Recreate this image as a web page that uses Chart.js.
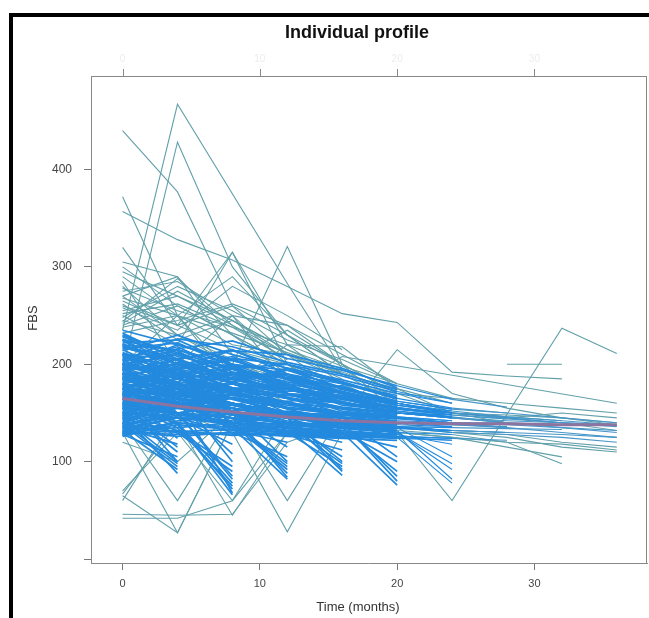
<!DOCTYPE html>
<html>
<head>
<meta charset="utf-8">
<script src="https://cdn.jsdelivr.net/npm/chart.js@4.4.0/dist/chart.umd.min.js"></script>
<style>
  html, body { margin: 0; padding: 0; background: #fff; }
  #wrap { position: relative; width: 649px; height: 618px; overflow: hidden; }
  #frame { position: absolute; left: 9px; top: 13px; width: 700px; height: 700px;
           border-top: 4px solid #000; border-left: 4px solid #000; }
  canvas { position: absolute; left: 0; top: 0; }
</style>
</head>
<body>
<div id="wrap">
  <div id="frame"></div>
  <canvas id="profileChart" width="649" height="618"></canvas>
</div>
<script>
"use strict";

// visit times (months)
const months = [0, 4, 8, 12, 16, 20, 24, 28, 32, 36];

// FBS per subject, one value per visit, null = missed visit
const bandProfiles = [
  // dropping low at month 4
  [132, 92], [140, 98], [128, 105], [155, 110], [135, 118], [170, 124], [145, 100], [138, 95],
  [165, 100], [148, 88], [158, 115],
  // dropping low at month 8
  [180, 140, 66], [160, 135, 75], [200, 150, 85], [150, 132, 95], [175, 160, 108],
  [190, 145, 118], [165, 138, 72], [210, 170, 100], [145, 130, 90],
  [172, 150, 82], [195, 165, 68], [155, 140, 78],
  // dropping low at month 12
  [170, 160, 135, 82], [190, 175, 140, 95], [150, 145, 130, 105], [210, 180, 150, 115],
  [160, 150, 145, 88], [185, 165, 132, 120], [175, 170, 155, 100], [200, 190, 138, 92],
  [188, 160, 150, 84], [168, 150, 140, 98],
  // dropping low at month 16
  [180, 170, 160, 135, 86], [160, 150, 145, 130, 95], [200, 185, 170, 140, 105],
  [175, 165, 150, 128, 112], [190, 180, 160, 150, 92], [155, 150, 140, 132, 120],
  [220, 200, 175, 145, 100], [205, 175, 160, 145, 90], [170, 160, 150, 138, 98],
  // dropping low at month 20
  [185, 170, 160, 150, 130, 76], [165, 160, 150, 140, 135, 90], [200, 190, 170, 160, 145, 105],
  [175, 165, 155, 145, 128, 115], [210, 190, 175, 150, 140, 85],
  [190, 178, 165, 150, 140, 80], [160, 155, 148, 140, 132, 100],
  // dropping low at month 24
  [190, 175, 160, 150, 140, 125, 78], [170, 160, 155, 145, 140, 130, 92],
  [200, 185, 170, 155, 150, 135, 105], [180, 170, 165, 150, 145, 128, 118],
  [185, 170, 160, 150, 142, 132, 82], [175, 165, 158, 148, 140, 130, 98],
  // staying in the main band
  [230, 210, 190, 175, 160, 150], [225, 200, 185, 170, 165], [220, 215, 200, 180],
  [215, 190, 195, 175, 160, 155, 150], [210, 205, 185, 170, 160],
  [205, 180, 175, 165, 150, 145, 140, 135], [200, 210, 190, 180, 170], [198, 185, 170, 160],
  [195, 200, 180, 170, 155, 150, 145, 140, 135, 130], [192, 175, 165, 150, 148],
  [190, 195, 185, 175, 160, 150, 148], [188, 170, 175, 160, 150],
  [185, 180, 170, 160, 150, 145, 140, 140], [182, 190, 165, 155, 148],
  [180, 175, 180, 165, 160, 150, 145, 142, 140, 138], [178, 165, 160, 150, 145],
  [175, 185, 170, 160, 155, 148], [172, 160, 165, 155, 150, 145, 140], [170, 175, 160, 150, 145],
  [168, 180, 170, 160, 150, 140, 138, 136], [165, 150, 155, 145, 140],
  [162, 170, 160, 150, 148, 142, 140, 138, 135, 132], [160, 165, 150, 145, 138],
  [158, 150, 160, 150, 140, 138], [155, 165, 155, 145, 140, 135, 132], [152, 145, 150, 140, 135],
  [150, 160, 150, 145, 138, 136, 135, 134, 133], [148, 155, 145, 140, 135],
  [145, 150, 140, 138, 135, 132], [142, 150, 145, 140, 138, 135, 130, 128, 125, 120],
  [140, 145, 140, 135, 132], [138, 150, 140, 135, 130, 128], [135, 145, 138, 132, 130],
  [132, 140, 135, 130, 128, 125, 122], [130, 135, 140, 132, 128], [128, 140, 135, 130, 125, 125],
  [225, 190, 170, 160, 150, 140, 140, 135, 130, 125], [218, 200, 180, 165, 155, 150],
  [212, 195, 200, 170, 165], [208, 185, 175, 180, 160, 150, 145], [203, 215, 195, 180, 170],
  [197, 178, 190, 170, 160, 155], [193, 205, 180, 175, 165, 150, 145, 140, 138],
  [187, 172, 168, 160, 150], [183, 195, 175, 165, 155, 150, 150, 145, 140, 136],
  [177, 188, 175, 170, 160, 150], [173, 168, 172, 160, 150, 148], [167, 175, 165, 160, 155],
  [163, 158, 165, 155, 150, 145, 140], [157, 170, 160, 150, 145, 140],
  [153, 160, 150, 148, 145, 140, 138, 135], [147, 158, 150, 145, 140],
  [143, 155, 148, 140, 138, 135, 132, 130, 128, 125], [137, 148, 142, 138, 135],
  [133, 145, 140, 135, 130, 128], [127, 138, 133, 130, 128],
  [235, 220, 205, 185, 170, 160, 150], [232, 205, 215, 190, 175], [228, 212, 195, 185, 165, 155],
  [222, 225, 200, 190, 180, 165, 155, 150, 145, 140],
  [226, 208, 196, 182, 170, 158, 150], [221, 196, 204, 188, 172, 160],
  [216, 222, 198, 176, 168, 152, 146, 140], [211, 188, 206, 184, 166, 156],
  [206, 218, 192, 186, 170, 160, 152, 146, 142, 138], [201, 192, 182, 196, 174, 162],
  [196, 212, 188, 172, 178, 158, 150], [191, 182, 198, 178, 164, 156, 148, 144],
  [186, 202, 184, 190, 170, 154], [181, 194, 176, 168, 172, 160, 150, 146, 142],
  [176, 166, 186, 174, 162, 150, 146], [171, 186, 172, 178, 158, 152],
  [166, 178, 168, 162, 168, 154, 148, 144, 140, 138], [161, 172, 180, 166, 156, 150],
  [156, 168, 158, 170, 152, 146, 142], [151, 162, 170, 156, 150, 148],
  [146, 160, 152, 162, 148, 144, 140, 138], [141, 156, 148, 152, 146, 140],
  [136, 150, 158, 146, 142, 138, 136], [131, 146, 140, 148, 140, 136],
  [126, 142, 150, 140, 136, 134, 132, 130], [229, 200, 188, 170, 160],
  [219, 206, 186, 174, 164, 154, 148], [209, 198, 214, 196, 180, 168],
  [199, 220, 204, 188, 176, 162, 154, 150], [189, 176, 196, 200, 182, 164],
  [179, 198, 208, 186, 172, 158, 152], [169, 190, 182, 194, 176, 160],
  [159, 180, 192, 178, 166, 154, 150, 146], [149, 170, 182, 170, 160, 150],
  [139, 164, 174, 166, 154, 146, 142], [129, 156, 166, 158, 150, 144],
  [214, 230, 210, 196, 184, 170, 160], [204, 226, 218, 202, 190, 174],
  [194, 216, 224, 206, 194, 178, 164, 156], [184, 206, 214, 210, 196, 176],
  [174, 196, 206, 200, 188, 172, 160], [164, 186, 200, 194, 182, 166],
  [154, 176, 190, 186, 176, 162, 154], [144, 166, 180, 176, 168, 158],
  [134, 158, 170, 168, 160, 152, 146], [224, 214, 180, 160, 146, 140, 136],
  [217, 204, 172, 154, 142, 138], [207, 194, 164, 150, 140, 136, 132, 130],
  [202, 188, 158, 146, 136, 132], [194, 182, 152, 142, 134, 130, 128],
  [186, 174, 148, 138, 132, 128], [178, 166, 144, 136, 130, 126, 124, 122],
  [168, 158, 140, 134, 128, 126], [158, 150, 136, 132, 126, 124, 122],
  [130, 128, 130, 128, 126, 125], [134, 130, 128, 130, 125], [128, 132, 127, 129, 128, 126, 124],
  [136, 131, 133, 127, 125], [131, 126, 130, 126, 124, 122]
];

const spreadProfiles = [
  [440, 377, 260, 210, 170, 150], [372, 250, 190, 160, 145],
  [357, 328, 307, 280, 252, 243, 192, 188, 185], [235, 467, null, 283, 195, 165],
  [195, 428, 300, 230, 190], [320, 240, 315, 200, 160], [305, 290, 230, 190, 170, 150],
  [285, 200, 250, 180], [280, 230, 200, 185, 175, 160, 150, 148, 145, 140],
  [270, 290, 210, 170, 160], [250, 220, 315, 220, 180, 155],
  [260, 240, 215, 200, 180, 170, 165, 160, 155, 150], [180, 170, 200, 321, 200, 150],
  [200, 250, 180, 220, 218, 175, 150, 140], [190, 210, 190, 175, 208, null, null, null, null, 160],
  [210, 180, 175, 160, 150, 130, 60, null, 237, 211],
  [null, null, null, null, null, null, null, 200, 200],
  [200, 185, 175, 165, 160, 155, 150, 145, 140, 132],
  [185, 170, 160, 150, 175, 160, 150, 145, 150, 145],
  [170, 160, 155, 150, 145, 215, 170, 155, 145, 138],
  [180, 165, 170, 160, 150, 140, 130, 125, 115, 110],
  [160, 150, 145, 140, 135, 130, 125, 120, 118, 112],
  [155, 150, 148, 140, 138, 132, 128, 120, 98],
  [150, 145, 140, 138, 135, 130, 125, 115, 105],
  [170, 160, 150, 145, 140, 135, 130, 128, 120, 115],
  [67, 140, 160, 150, 145], [46, 45, 46, 120, 140], [42, 42, 60, 130],
  [65, 27, 140, 150], [70, 130, 60, 150, 140], [60, 150, 130, 28, 130],
  [130, 27, 140, 135], [150, 140, 45, 130, 140], [120, 100, 150, 60, 150], [140, 60, 150, 140, 135],
  [300, 260, 230, 200, 180], [275, 285, 250, 200, 170], [265, 240, 260, 230, 190, 160],
  [255, 270, 240, 210, 190], [245, 230, 250, 240, 200, 170, 150], [240, 260, 230, 200],
  [290, 250, 220, 210, 190, 175, 160], [248, 280, 255, 225, 205, 180], [258, 235, 280, 250, 215],
  [295, 270, 245, 215, 190], [268, 250, 232, 212, 192, 172], [252, 262, 238, 205],
  [242, 275, 245, 210, 185], [278, 255, 238, 220, 198, 180, 165], [262, 225, 245, 215, 195],
  [238, 250, 290, 230, 200], [244, 288, 240, 205], [232, 245, 262, 240, 210, 180],
  [270, 230, 205, 235, 200, 170]
];

// smoothed mean profile
const meanFBS = [165, 157, 151, 146, 142, 140, 139, 139, 138, 138];

const xTicks = [0, 10, 20, 30];
const yTicks = [0, 100, 200, 300, 400];

const fontFamily = '"Liberation Sans", Arial, sans-serif';

function toPoints(vals) {
  return vals.map((v, i) => ({ x: months[i], y: v }));
}

// late follow-up segments are sparser in the original, so draw them thinner
const lateSegment = {
  borderWidth: c => (c.p0.parsed.x >= 20 ? 1.1 : 1.7),
  borderColor: c => (c.p0.parsed.x >= 24 ? 'rgb(70,150,200)' : 'rgb(35,138,222)')
};

// lower index is painted last: mean on top, then the blue band, then the spread
const datasets = [
  { data: toPoints(meanFBS), borderColor: '#8d74a0', borderWidth: 3 }
];
bandProfiles.forEach(p => datasets.push({
  data: toPoints(p), borderColor: 'rgb(35,138,222)', borderWidth: 1.7, segment: lateSegment
}));
spreadProfiles.forEach(p => datasets.push({ data: toPoints(p), borderColor: 'rgb(98,160,170)', borderWidth: 1.1 }));

// box, top ticks and titles
const boxPlugin = {
  id: 'boxPlugin',
  afterDraw(chart) {
    const ctx = chart.ctx;
    const a = chart.chartArea;
    const x = chart.scales.x;
    ctx.save();
    ctx.strokeStyle = '#888';
    ctx.lineWidth = 1;
    ctx.beginPath();
    ctx.moveTo(a.left, a.top + 0.5);
    ctx.lineTo(a.right, a.top + 0.5);
    ctx.moveTo(a.right - 0.5, a.top);
    ctx.lineTo(a.right - 0.5, a.bottom);
    xTicks.forEach(v => {
      const px = Math.round(x.getPixelForValue(v)) + 0.5;
      ctx.moveTo(px, a.top);
      ctx.lineTo(px, a.top - 7);
    });
    ctx.stroke();

    ctx.fillStyle = '#ececec';
    ctx.font = '10px ' + fontFamily;
    ctx.textAlign = 'center';
    ctx.textBaseline = 'middle';
    xTicks.forEach(v => ctx.fillText(String(v), x.getPixelForValue(v), a.top - 17));

    ctx.fillStyle = '#111';
    ctx.font = 'bold 18px ' + fontFamily;
    ctx.fillText('Individual profile', 357, 33);

    ctx.fillStyle = '#333';
    ctx.font = '13px ' + fontFamily;
    ctx.fillText('Time (months)', 358, 607);

    ctx.translate(33, 318);
    ctx.rotate(-Math.PI / 2);
    ctx.fillText('FBS', 0, 0);
    ctx.restore();
  }
};

const ctx = document.getElementById('profileChart').getContext('2d');
const profileChart = new Chart(ctx, {
  type: 'line',
  data: { datasets: datasets },
  options: {
    responsive: false,
    animation: false,
    spanGaps: true,
    elements: { point: { radius: 0 }, line: { tension: 0 } },
    layout: { padding: { top: 76, right: 2, left: 0, bottom: 0 } },
    plugins: { legend: { display: false }, tooltip: { enabled: false }, title: { display: false } },
    scales: {
      x: {
        type: 'linear', min: -2.3, max: 38.2,
        afterBuildTicks: s => { s.ticks = xTicks.map(v => ({ value: v })); },
        afterFit: s => { s.height = 55; },
        grid: { drawOnChartArea: false, drawTicks: true, tickLength: 7, color: '#777' },
        border: { color: '#888' },
        ticks: { padding: 7, color: '#444', font: { family: fontFamily, size: 11 } }
      },
      y: {
        type: 'linear', min: -4, max: 496,
        afterBuildTicks: s => { s.ticks = yTicks.map(v => ({ value: v })); },
        afterFit: s => { s.width = 91; },
        grid: { drawOnChartArea: false, drawTicks: true, tickLength: 7, color: '#777' },
        border: { color: '#888' },
        ticks: {
          padding: 12, color: '#444', font: { family: fontFamily, size: 12 },
          callback: v => (v === 0 ? '' : v)
        }
      }
    }
  },
  plugins: [boxPlugin]
});
</script>
</body>
</html>
